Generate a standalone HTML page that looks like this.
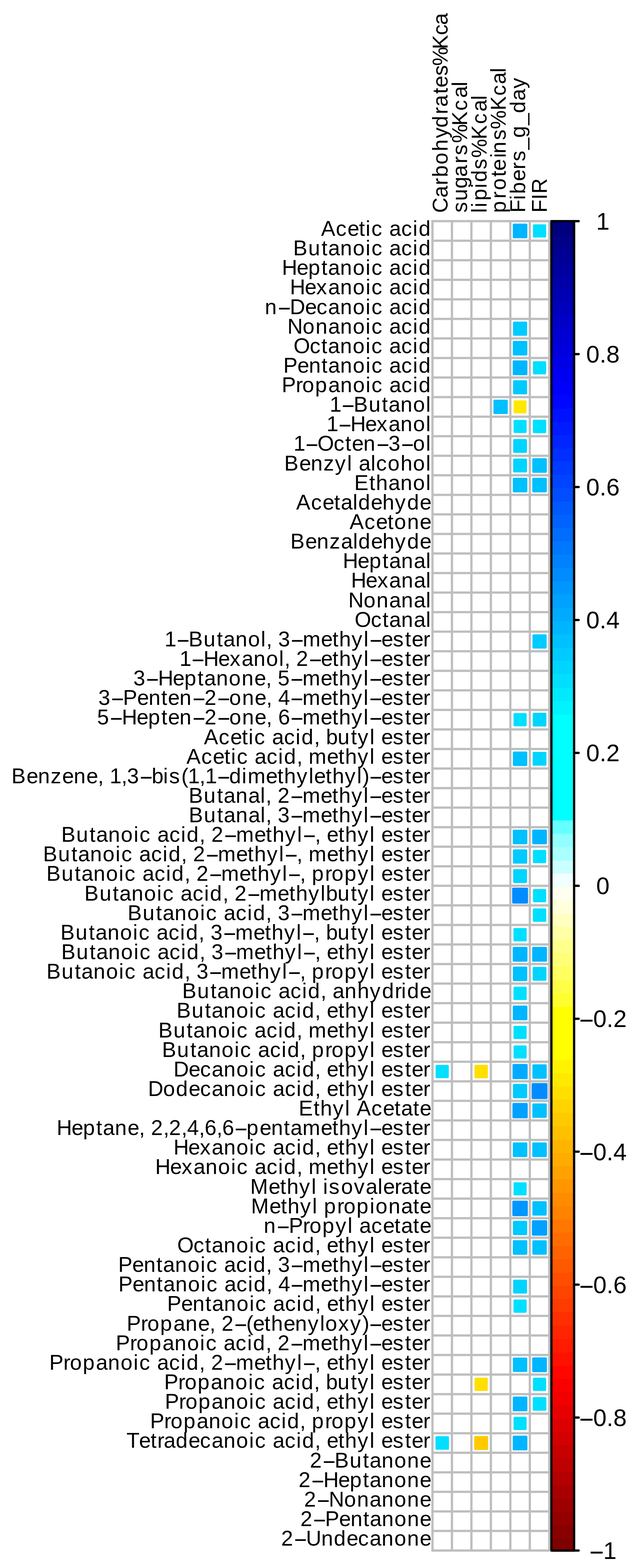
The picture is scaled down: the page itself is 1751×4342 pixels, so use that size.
<!DOCTYPE html>
<html lang="en"><head><meta charset="utf-8"><title>Correlation plot</title>
<style>html,body{margin:0;padding:0;background:#fff}body{width:1751px;height:4342px;overflow:hidden}svg{display:block}text{font-family:"Liberation Sans",Arial,Helvetica,sans-serif;fill:#000;font-kerning:none;font-variant-ligatures:none}.r{font-size:59px}.k{font-size:66.67px}</style></head><body>
<svg width="1751" height="4342" viewBox="0 0 1751 4342">
<rect width="1751" height="4342" fill="#fff"/>
<g stroke-width="6.25" stroke-linejoin="round">
<rect x="1423.81" y="622.28" width="34.24" height="34.37" fill="#00B5FF" stroke="#00B5FF"/>
<rect x="1479.71" y="624.25" width="30.32" height="30.43" fill="#00DFFF" stroke="#00DFFF"/>
<rect x="1424.52" y="893.68" width="32.81" height="32.93" fill="#00CAFF" stroke="#00CAFF"/>
<rect x="1423.87" y="947.16" width="34.11" height="34.24" fill="#00C0FF" stroke="#00C0FF"/>
<rect x="1423.62" y="1001.04" width="34.62" height="34.75" fill="#00B5FF" stroke="#00B5FF"/>
<rect x="1479.76" y="1003.25" width="30.23" height="30.33" fill="#00DFFF" stroke="#00DFFF"/>
<rect x="1424.64" y="1056.19" width="32.59" height="32.71" fill="#00CAFF" stroke="#00CAFF"/>
<rect x="1370.26" y="1109.89" width="33.47" height="33.59" fill="#00C0FF" stroke="#00C0FF"/>
<rect x="1426.16" y="1111.86" width="29.54" height="29.65" fill="#FFE900" stroke="#FFE900"/>
<rect x="1425.96" y="1165.8" width="29.94" height="30.04" fill="#00DFFF" stroke="#00DFFF"/>
<rect x="1479.47" y="1165.36" width="30.8" height="30.91" fill="#00DFFF" stroke="#00DFFF"/>
<rect x="1425" y="1218.96" width="31.87" height="31.98" fill="#00D4FF" stroke="#00D4FF"/>
<rect x="1424.86" y="1272.96" width="32.14" height="32.25" fill="#00D4FF" stroke="#00D4FF"/>
<rect x="1477.81" y="1271.97" width="34.11" height="34.24" fill="#00C0FF" stroke="#00C0FF"/>
<rect x="1423.87" y="1326.1" width="34.11" height="34.24" fill="#00C0FF" stroke="#00C0FF"/>
<rect x="1477.81" y="1326.1" width="34.11" height="34.24" fill="#00C0FF" stroke="#00C0FF"/>
<rect x="1478.35" y="1759.73" width="33.03" height="33.15" fill="#00CAFF" stroke="#00CAFF"/>
<rect x="1425.77" y="1977.63" width="30.32" height="30.43" fill="#00DFFF" stroke="#00DFFF"/>
<rect x="1479.05" y="1976.97" width="31.64" height="31.75" fill="#00D4FF" stroke="#00D4FF"/>
<rect x="1424.09" y="2084.21" width="33.69" height="33.81" fill="#00C0FF" stroke="#00C0FF"/>
<rect x="1478.91" y="2085.1" width="31.91" height="32.03" fill="#00D4FF" stroke="#00D4FF"/>
<rect x="1423.87" y="2300.53" width="34.11" height="34.24" fill="#00C0FF" stroke="#00C0FF"/>
<rect x="1477.6" y="2300.32" width="34.54" height="34.66" fill="#00B5FF" stroke="#00B5FF"/>
<rect x="1424.3" y="2355.1" width="33.25" height="33.37" fill="#00CAFF" stroke="#00CAFF"/>
<rect x="1479.71" y="2356.57" width="30.32" height="30.43" fill="#00DFFF" stroke="#00DFFF"/>
<rect x="1424.86" y="2409.8" width="32.14" height="32.25" fill="#00D4FF" stroke="#00D4FF"/>
<rect x="1422.05" y="2461.11" width="37.76" height="37.89" fill="#008CFF" stroke="#008CFF"/>
<rect x="1479.71" y="2464.84" width="30.32" height="30.43" fill="#00DFFF" stroke="#00DFFF"/>
<rect x="1479.47" y="2518.74" width="30.8" height="30.91" fill="#00DFFF" stroke="#00DFFF"/>
<rect x="1425.67" y="2573.02" width="30.51" height="30.62" fill="#00DFFF" stroke="#00DFFF"/>
<rect x="1423.56" y="2625.03" width="34.75" height="34.87" fill="#00B5FF" stroke="#00B5FF"/>
<rect x="1477.5" y="2625.03" width="34.75" height="34.87" fill="#00B5FF" stroke="#00B5FF"/>
<rect x="1424.09" y="2679.69" width="33.69" height="33.81" fill="#00C0FF" stroke="#00C0FF"/>
<rect x="1478.91" y="2680.58" width="31.91" height="32.03" fill="#00D4FF" stroke="#00D4FF"/>
<rect x="1425.67" y="2735.42" width="30.51" height="30.62" fill="#00DFFF" stroke="#00DFFF"/>
<rect x="1423.77" y="2787.64" width="34.33" height="34.45" fill="#00B5FF" stroke="#00B5FF"/>
<rect x="1425.77" y="2843.79" width="30.32" height="30.43" fill="#00DFFF" stroke="#00DFFF"/>
<rect x="1425.91" y="2898.07" width="30.03" height="30.14" fill="#00DFFF" stroke="#00DFFF"/>
<rect x="1210.03" y="2952.08" width="30.27" height="30.38" fill="#00DFFF" stroke="#00DFFF"/>
<rect x="1317.56" y="2951.72" width="30.99" height="31.1" fill="#FFDF00" stroke="#FFDF00"/>
<rect x="1423.04" y="2949.32" width="35.78" height="35.91" fill="#00ABFF" stroke="#00ABFF"/>
<rect x="1478.14" y="2950.48" width="33.47" height="33.59" fill="#00C0FF" stroke="#00C0FF"/>
<rect x="1424.3" y="3004.72" width="33.25" height="33.37" fill="#00CAFF" stroke="#00CAFF"/>
<rect x="1475.99" y="3002.46" width="37.76" height="37.89" fill="#008CFF" stroke="#008CFF"/>
<rect x="1422.84" y="3057.39" width="36.18" height="36.31" fill="#00A1FF" stroke="#00A1FF"/>
<rect x="1478.03" y="3058.64" width="33.69" height="33.81" fill="#00C0FF" stroke="#00C0FF"/>
<rect x="1423.87" y="3166.69" width="34.11" height="34.24" fill="#00C0FF" stroke="#00C0FF"/>
<rect x="1477.81" y="3166.69" width="34.11" height="34.24" fill="#00C0FF" stroke="#00C0FF"/>
<rect x="1425.91" y="3277.01" width="30.03" height="30.14" fill="#00DFFF" stroke="#00DFFF"/>
<rect x="1422.54" y="3327.76" width="36.78" height="36.92" fill="#0096FF" stroke="#0096FF"/>
<rect x="1478.14" y="3329.42" width="33.47" height="33.59" fill="#00C0FF" stroke="#00C0FF"/>
<rect x="1424.3" y="3383.67" width="33.25" height="33.37" fill="#00CAFF" stroke="#00CAFF"/>
<rect x="1476.78" y="3382.2" width="36.18" height="36.31" fill="#00A1FF" stroke="#00A1FF"/>
<rect x="1423.98" y="3437.48" width="33.9" height="34.02" fill="#00C0FF" stroke="#00C0FF"/>
<rect x="1478.03" y="3437.58" width="33.69" height="33.81" fill="#00C0FF" stroke="#00C0FF"/>
<rect x="1424.86" y="3546.63" width="32.14" height="32.25" fill="#00D4FF" stroke="#00D4FF"/>
<rect x="1425.77" y="3601.68" width="30.32" height="30.43" fill="#00DFFF" stroke="#00DFFF"/>
<rect x="1424.09" y="3762.39" width="33.69" height="33.81" fill="#00C0FF" stroke="#00C0FF"/>
<rect x="1477.6" y="3761.97" width="34.54" height="34.66" fill="#00B5FF" stroke="#00B5FF"/>
<rect x="1317.79" y="3818.12" width="30.51" height="30.62" fill="#FFDF00" stroke="#FFDF00"/>
<rect x="1479.71" y="3818.22" width="30.32" height="30.43" fill="#00DFFF" stroke="#00DFFF"/>
<rect x="1423.77" y="3870.34" width="34.33" height="34.45" fill="#00B5FF" stroke="#00B5FF"/>
<rect x="1479.14" y="3871.78" width="31.45" height="31.57" fill="#00DFFF" stroke="#00DFFF"/>
<rect x="1425.79" y="3926.51" width="30.27" height="30.38" fill="#00DFFF" stroke="#00DFFF"/>
<rect x="1209.61" y="3980.22" width="31.13" height="31.24" fill="#00DFFF" stroke="#00DFFF"/>
<rect x="1316.87" y="3979.6" width="32.36" height="32.48" fill="#FFCA00" stroke="#FFCA00"/>
<rect x="1423.7" y="3978.55" width="34.45" height="34.58" fill="#00B5FF" stroke="#00B5FF"/>
</g>
<path d="M1198.2 612.4V4293.58M1252.14 612.4V4293.58M1306.08 612.4V4293.58M1360.02 612.4V4293.58M1413.96 612.4V4293.58M1467.9 612.4V4293.58M1521.84 612.4V4293.58M1198.2 612.4H1521.84M1198.2 666.53H1521.84M1198.2 720.67H1521.84M1198.2 774.8H1521.84M1198.2 828.94H1521.84M1198.2 883.08H1521.84M1198.2 937.21H1521.84M1198.2 991.35H1521.84M1198.2 1045.48H1521.84M1198.2 1099.62H1521.84M1198.2 1153.75H1521.84M1198.2 1207.88H1521.84M1198.2 1262.02H1521.84M1198.2 1316.15H1521.84M1198.2 1370.29H1521.84M1198.2 1424.42H1521.84M1198.2 1478.56H1521.84M1198.2 1532.69H1521.84M1198.2 1586.83H1521.84M1198.2 1640.97H1521.84M1198.2 1695.1H1521.84M1198.2 1749.24H1521.84M1198.2 1803.37H1521.84M1198.2 1857.51H1521.84M1198.2 1911.64H1521.84M1198.2 1965.78H1521.84M1198.2 2019.91H1521.84M1198.2 2074.05H1521.84M1198.2 2128.18H1521.84M1198.2 2182.32H1521.84M1198.2 2236.45H1521.84M1198.2 2290.59H1521.84M1198.2 2344.72H1521.84M1198.2 2398.86H1521.84M1198.2 2452.99H1521.84M1198.2 2507.12H1521.84M1198.2 2561.26H1521.84M1198.2 2615.39H1521.84M1198.2 2669.53H1521.84M1198.2 2723.66H1521.84M1198.2 2777.8H1521.84M1198.2 2831.93H1521.84M1198.2 2886.07H1521.84M1198.2 2940.2H1521.84M1198.2 2994.34H1521.84M1198.2 3048.47H1521.84M1198.2 3102.61H1521.84M1198.2 3156.74H1521.84M1198.2 3210.88H1521.84M1198.2 3265.01H1521.84M1198.2 3319.15H1521.84M1198.2 3373.28H1521.84M1198.2 3427.42H1521.84M1198.2 3481.55H1521.84M1198.2 3535.69H1521.84M1198.2 3589.82H1521.84M1198.2 3643.96H1521.84M1198.2 3698.09H1521.84M1198.2 3752.23H1521.84M1198.2 3806.36H1521.84M1198.2 3860.5H1521.84M1198.2 3914.63H1521.84M1198.2 3968.77H1521.84M1198.2 4022.9H1521.84M1198.2 4077.04H1521.84M1198.2 4131.18H1521.84M1198.2 4185.31H1521.84M1198.2 4239.44H1521.84M1198.2 4293.58H1521.84" fill="none" stroke="#BEBEBE" stroke-width="6.25" stroke-linecap="square"/>
<g shape-rendering="crispEdges">
<rect x="1527.7" y="4259.47" width="62.9" height="37.41" fill="#7F0000"/>
<rect x="1527.7" y="4222.66" width="62.9" height="37.41" fill="#890000"/>
<rect x="1527.7" y="4185.84" width="62.9" height="37.41" fill="#940000"/>
<rect x="1527.7" y="4149.03" width="62.9" height="37.41" fill="#9E0000"/>
<rect x="1527.7" y="4112.22" width="62.9" height="37.41" fill="#A80000"/>
<rect x="1527.7" y="4075.41" width="62.9" height="37.41" fill="#B30000"/>
<rect x="1527.7" y="4038.6" width="62.9" height="37.41" fill="#BD0000"/>
<rect x="1527.7" y="4001.79" width="62.9" height="37.41" fill="#C70000"/>
<rect x="1527.7" y="3964.97" width="62.9" height="37.41" fill="#D20000"/>
<rect x="1527.7" y="3928.16" width="62.9" height="37.41" fill="#DC0000"/>
<rect x="1527.7" y="3891.35" width="62.9" height="37.41" fill="#E60000"/>
<rect x="1527.7" y="3854.54" width="62.9" height="37.41" fill="#F10000"/>
<rect x="1527.7" y="3817.73" width="62.9" height="37.41" fill="#FB0000"/>
<rect x="1527.7" y="3780.91" width="62.9" height="37.41" fill="#FF0600"/>
<rect x="1527.7" y="3744.1" width="62.9" height="37.41" fill="#FF1100"/>
<rect x="1527.7" y="3707.29" width="62.9" height="37.41" fill="#FF1B00"/>
<rect x="1527.7" y="3670.48" width="62.9" height="37.41" fill="#FF2500"/>
<rect x="1527.7" y="3633.67" width="62.9" height="37.41" fill="#FF2F00"/>
<rect x="1527.7" y="3596.86" width="62.9" height="37.41" fill="#FF3A00"/>
<rect x="1527.7" y="3560.04" width="62.9" height="37.41" fill="#FF4400"/>
<rect x="1527.7" y="3523.23" width="62.9" height="37.41" fill="#FF4E00"/>
<rect x="1527.7" y="3486.42" width="62.9" height="37.41" fill="#FF5900"/>
<rect x="1527.7" y="3449.61" width="62.9" height="37.41" fill="#FF6300"/>
<rect x="1527.7" y="3412.8" width="62.9" height="37.41" fill="#FF6D00"/>
<rect x="1527.7" y="3375.99" width="62.9" height="37.41" fill="#FF7700"/>
<rect x="1527.7" y="3339.17" width="62.9" height="37.41" fill="#FF8200"/>
<rect x="1527.7" y="3302.36" width="62.9" height="37.41" fill="#FF8C00"/>
<rect x="1527.7" y="3265.55" width="62.9" height="37.41" fill="#FF9600"/>
<rect x="1527.7" y="3228.74" width="62.9" height="37.41" fill="#FFA100"/>
<rect x="1527.7" y="3191.93" width="62.9" height="37.41" fill="#FFAB00"/>
<rect x="1527.7" y="3155.11" width="62.9" height="37.41" fill="#FFB500"/>
<rect x="1527.7" y="3118.3" width="62.9" height="37.41" fill="#FFC000"/>
<rect x="1527.7" y="3081.49" width="62.9" height="37.41" fill="#FFCA00"/>
<rect x="1527.7" y="3044.68" width="62.9" height="37.41" fill="#FFD400"/>
<rect x="1527.7" y="3007.87" width="62.9" height="37.41" fill="#FFDF00"/>
<rect x="1527.7" y="2971.06" width="62.9" height="37.41" fill="#FFE900"/>
<rect x="1527.7" y="2934.24" width="62.9" height="37.41" fill="#FFF300"/>
<rect x="1527.7" y="2897.43" width="62.9" height="37.41" fill="#FFFF00"/>
<rect x="1527.7" y="2860.62" width="62.9" height="37.41" fill="#FFFF00"/>
<rect x="1527.7" y="2823.81" width="62.9" height="37.41" fill="#FFFF00"/>
<rect x="1527.7" y="2787" width="62.9" height="37.41" fill="#FFFF00"/>
<rect x="1527.7" y="2750.18" width="62.9" height="37.41" fill="#FFFF30"/>
<rect x="1527.7" y="2713.37" width="62.9" height="37.41" fill="#FFFF48"/>
<rect x="1527.7" y="2676.56" width="62.9" height="37.41" fill="#FFFF60"/>
<rect x="1527.7" y="2639.75" width="62.9" height="37.41" fill="#FFFF78"/>
<rect x="1527.7" y="2602.94" width="62.9" height="37.41" fill="#FFFF8C"/>
<rect x="1527.7" y="2566.13" width="62.9" height="37.41" fill="#FFFFA5"/>
<rect x="1527.7" y="2529.31" width="62.9" height="37.41" fill="#FFFFC0"/>
<rect x="1527.7" y="2492.5" width="62.9" height="37.41" fill="#FFFFDC"/>
<rect x="1527.7" y="2455.69" width="62.9" height="37.41" fill="#FFFFF0"/>
<rect x="1527.7" y="2418.88" width="62.9" height="37.41" fill="#F2FFFF"/>
<rect x="1527.7" y="2382.07" width="62.9" height="37.41" fill="#CCFFFF"/>
<rect x="1527.7" y="2345.25" width="62.9" height="37.41" fill="#AAFFFF"/>
<rect x="1527.7" y="2308.44" width="62.9" height="37.41" fill="#91FFFF"/>
<rect x="1527.7" y="2271.63" width="62.9" height="37.41" fill="#66FFFF"/>
<rect x="1527.7" y="2234.82" width="62.9" height="37.41" fill="#00FFFF"/>
<rect x="1527.7" y="2198.01" width="62.9" height="37.41" fill="#00FFFF"/>
<rect x="1527.7" y="2161.2" width="62.9" height="37.41" fill="#00FFFF"/>
<rect x="1527.7" y="2124.38" width="62.9" height="37.41" fill="#00FFFF"/>
<rect x="1527.7" y="2087.57" width="62.9" height="37.41" fill="#00FFFF"/>
<rect x="1527.7" y="2050.76" width="62.9" height="37.41" fill="#00FFFF"/>
<rect x="1527.7" y="2013.95" width="62.9" height="37.41" fill="#00FFFF"/>
<rect x="1527.7" y="1977.14" width="62.9" height="37.41" fill="#00FFFF"/>
<rect x="1527.7" y="1940.32" width="62.9" height="37.41" fill="#00F3FF"/>
<rect x="1527.7" y="1903.51" width="62.9" height="37.41" fill="#00E9FF"/>
<rect x="1527.7" y="1866.7" width="62.9" height="37.41" fill="#00DFFF"/>
<rect x="1527.7" y="1829.89" width="62.9" height="37.41" fill="#00D4FF"/>
<rect x="1527.7" y="1793.08" width="62.9" height="37.41" fill="#00CAFF"/>
<rect x="1527.7" y="1756.27" width="62.9" height="37.41" fill="#00C0FF"/>
<rect x="1527.7" y="1719.45" width="62.9" height="37.41" fill="#00B5FF"/>
<rect x="1527.7" y="1682.64" width="62.9" height="37.41" fill="#00ABFF"/>
<rect x="1527.7" y="1645.83" width="62.9" height="37.41" fill="#00A1FF"/>
<rect x="1527.7" y="1609.02" width="62.9" height="37.41" fill="#0096FF"/>
<rect x="1527.7" y="1572.21" width="62.9" height="37.41" fill="#008CFF"/>
<rect x="1527.7" y="1535.4" width="62.9" height="37.41" fill="#0082FF"/>
<rect x="1527.7" y="1498.58" width="62.9" height="37.41" fill="#0077FF"/>
<rect x="1527.7" y="1461.77" width="62.9" height="37.41" fill="#006DFF"/>
<rect x="1527.7" y="1424.96" width="62.9" height="37.41" fill="#0063FF"/>
<rect x="1527.7" y="1388.15" width="62.9" height="37.41" fill="#0059FF"/>
<rect x="1527.7" y="1351.34" width="62.9" height="37.41" fill="#004EFF"/>
<rect x="1527.7" y="1314.52" width="62.9" height="37.41" fill="#0044FF"/>
<rect x="1527.7" y="1277.71" width="62.9" height="37.41" fill="#003AFF"/>
<rect x="1527.7" y="1240.9" width="62.9" height="37.41" fill="#002FFF"/>
<rect x="1527.7" y="1204.09" width="62.9" height="37.41" fill="#0025FF"/>
<rect x="1527.7" y="1167.28" width="62.9" height="37.41" fill="#001BFF"/>
<rect x="1527.7" y="1130.47" width="62.9" height="37.41" fill="#0011FF"/>
<rect x="1527.7" y="1093.65" width="62.9" height="37.41" fill="#0006FF"/>
<rect x="1527.7" y="1056.84" width="62.9" height="37.41" fill="#0000FB"/>
<rect x="1527.7" y="1020.03" width="62.9" height="37.41" fill="#0000F1"/>
<rect x="1527.7" y="983.22" width="62.9" height="37.41" fill="#0000E6"/>
<rect x="1527.7" y="946.41" width="62.9" height="37.41" fill="#0000DC"/>
<rect x="1527.7" y="909.59" width="62.9" height="37.41" fill="#0000D2"/>
<rect x="1527.7" y="872.78" width="62.9" height="37.41" fill="#0000C7"/>
<rect x="1527.7" y="835.97" width="62.9" height="37.41" fill="#0000BD"/>
<rect x="1527.7" y="799.16" width="62.9" height="37.41" fill="#0000B3"/>
<rect x="1527.7" y="762.35" width="62.9" height="37.41" fill="#0000A8"/>
<rect x="1527.7" y="725.54" width="62.9" height="37.41" fill="#00009E"/>
<rect x="1527.7" y="688.72" width="62.9" height="37.41" fill="#000094"/>
<rect x="1527.7" y="651.91" width="62.9" height="37.41" fill="#000089"/>
<rect x="1527.7" y="615.1" width="62.9" height="37.41" fill="#00007F"/>
</g>
<rect x="1527.7" y="612.4" width="62.9" height="3681.18" fill="none" stroke="#000" stroke-width="6.25" stroke-linejoin="round"/>
<path d="M1590.6 612.4H1603.2M1590.6 980.52H1603.2M1590.6 1348.64H1603.2M1590.6 1716.75H1603.2M1590.6 2084.87H1603.2M1590.6 2452.99H1603.2M1590.6 2821.11H1603.2M1590.6 3189.23H1603.2M1590.6 3557.34H1603.2M1590.6 3925.46H1603.2M1590.6 4293.58H1603.2" fill="none" stroke="#000" stroke-width="6.25" stroke-linecap="round"/>
<g class="k">
<text x="1651.86" y="635.7">1</text>
<text x="1624.06 1661.14 1679.66" y="1003.82">0.8</text>
<text x="1624.06 1661.14 1679.66" y="1371.94">0.6</text>
<text x="1624.06 1661.14 1679.66" y="1740.05">0.4</text>
<text x="1624.06 1661.14 1679.66" y="2108.17">0.2</text>
<text x="1651.86" y="2476.29">0</text>
<text x="1602.39 1643.53 1680.61 1699.13" y="2844.41"><tspan textLength="45.51" lengthAdjust="spacingAndGlyphs">-</tspan>0.2</text>
<text x="1602.39 1643.53 1680.61 1699.13" y="3212.53"><tspan textLength="45.51" lengthAdjust="spacingAndGlyphs">-</tspan>0.4</text>
<text x="1602.39 1643.53 1680.61 1699.13" y="3580.64"><tspan textLength="45.51" lengthAdjust="spacingAndGlyphs">-</tspan>0.6</text>
<text x="1602.39 1643.53 1680.61 1699.13" y="3948.76"><tspan textLength="45.51" lengthAdjust="spacingAndGlyphs">-</tspan>0.8</text>
<text x="1630.19 1671.33" y="4316.88"><tspan textLength="45.51" lengthAdjust="spacingAndGlyphs">-</tspan>1</text>
</g>
<g class="r">
<text y="653" x="889.4 930.57 962.64 994.49 1012.99 1029.11 1061.19 1078.5 1111.79 1143.87 1159.99">Acetic acid</text>
<text y="707.13" x="812.19 853.94 890.63 909.13 942.4 977.45 1013.05 1029.17 1061.23 1078.54 1111.81 1143.87 1159.99">Butanoic acid</text>
<text y="761.27" x="781.05 822.25 854.09 890.59 909.09 942.37 977.43 1013.04 1029.15 1061.22 1078.53 1111.81 1143.87 1159.99">Heptanoic acid</text>
<text y="815.4" x="803.35 844.52 876.33 909.29 942.54 977.57 1013.15 1029.26 1061.3 1078.59 1111.84 1143.88 1159.99">Hexanoic acid</text>
<text y="869.54 869.54 869.54 869.54 869.54 869.54 869.54 869.54 869.54 869.54 869.54 869.54 869.54 869.54 869.54" x="733.75 767.8 803.12 845.23 877.06 909.12 942.39 977.45 1013.05 1029.17 1061.23 1078.54 1111.81 1143.87 1159.99">n<tspan textLength="40.28" lengthAdjust="spacingAndGlyphs">-</tspan>Decanoic acid</text>
<text y="923.67" x="796.27 838.58 874.17 909.21 942.47 977.51 1013.11 1029.22 1061.27 1078.57 1111.83 1143.88 1159.99">Nonanoic acid</text>
<text y="977.81" x="813.2 858.25 890.35 908.86 942.17 977.26 1012.9 1029.03 1061.13 1078.45 1111.76 1143.86 1159.99">Octanoic acid</text>
<text y="1031.94" x="784.99 824.02 855.83 890.85 909.33 942.58 977.6 1013.18 1029.28 1061.31 1078.61 1111.85 1143.89 1159.99">Pentanoic acid</text>
<text y="1086.08" x="780.43 819.44 837.51 873.05 909.5 942.73 977.73 1013.28 1029.37 1061.38 1078.66 1111.88 1143.9 1159.99">Propanoic acid</text>
<text y="1140.21 1140.21 1140.21 1140.21 1140.21 1140.21 1140.21 1140.21 1140.21" x="913.61 944.63 979.82 1021.41 1057.97 1076.4 1109.55 1144.47 1179.94">1<tspan textLength="40.28" lengthAdjust="spacingAndGlyphs">-</tspan>Butanol</text>
<text y="1194.35 1194.35 1194.35 1194.35 1194.35 1194.35 1194.35 1194.35 1194.35" x="904.73 935.73 970.9 1011.92 1043.61 1076.45 1109.58 1144.49 1179.94">1<tspan textLength="40.28" lengthAdjust="spacingAndGlyphs">-</tspan>Hexanol</text>
<text y="1248.49 1248.49 1248.49 1248.49 1248.49 1248.49 1248.49 1248.49 1248.49 1248.49 1248.49 1248.49" x="813.2 844.31 879.6 924.56 956.59 975.07 1006.87 1040.9 1076.18 1109.09 1144.37 1179.94">1<tspan textLength="40.28" lengthAdjust="spacingAndGlyphs">-</tspan>Octen<tspan textLength="40.28" lengthAdjust="spacingAndGlyphs">-</tspan>3<tspan textLength="40.28" lengthAdjust="spacingAndGlyphs">-</tspan>ol</text>
<text y="1302.62" x="787.48 829.2 861.01 896.05 928.03 961.77 976.66 993.96 1027.21 1042.1 1074.14 1109.72 1144.36 1179.94">Benzyl alcohol</text>
<text y="1356.76" x="981.45 1022.92 1041.41 1076.05 1109.31 1144.35 1179.94">Ethanol</text>
<text y="1410.89" x="820.59 861.77 893.86 925.72 944.23 977.53 992.44 1027.61 1059.47 1094.15 1127.94 1163.11">Acetaldehyde</text>
<text y="1465.03" x="968.44 1009.68 1041.82 1073.74 1092.28 1127.97 1163.11">Acetone</text>
<text y="1519.16" x="804.38 846.06 877.84 912.83 944.78 977.99 992.86 1027.95 1059.73 1094.32 1128.03 1163.11">Benzaldehyde</text>
<text y="1573.3" x="949.83 991.11 1023.01 1059.59 1078.13 1111.47 1146.6 1179.94">Heptanal</text>
<text y="1627.43" x="972.38 1013.57 1045.39 1078.37 1111.63 1146.67 1179.94">Hexanal</text>
<text y="1681.57" x="965.05 1007.44 1043.09 1078.19 1111.51 1146.62 1179.94">Nonanal</text>
<text y="1735.7" x="982.48 1027.55 1059.66 1078.19 1111.51 1146.62 1179.94">Octanal</text>
<text y="1789.84 1789.84 1789.84 1789.84 1789.84 1789.84 1789.84 1789.84 1789.84 1789.84 1789.84 1789.84 1789.84 1789.84 1789.84 1789.84 1789.84 1789.84 1789.84 1789.84 1789.84 1789.84 1789.84 1789.84 1789.84" x="456.1 487.17 522.4 564.05 600.66 619.11 652.3 687.27 722.8 737.66 753.38 770.64 803.5 838.74 889.18 920.94 939.39 973.96 1007.65 1021.51 1056.74 1088.5 1122.32 1140.77 1172.53">1<tspan textLength="40.28" lengthAdjust="spacingAndGlyphs">-</tspan>Butanol, 3<tspan textLength="40.28" lengthAdjust="spacingAndGlyphs">-</tspan>methyl<tspan textLength="40.28" lengthAdjust="spacingAndGlyphs">-</tspan>ester</text>
<text y="1843.97 1843.97 1843.97 1843.97 1843.97 1843.97 1843.97 1843.97 1843.97 1843.97 1843.97 1843.97 1843.97 1843.97 1843.97 1843.97 1843.97 1843.97 1843.97 1843.97 1843.97 1843.97 1843.97 1843.97" x="497.41 528.46 563.68 604.77 636.51 669.4 702.58 737.54 773.05 787.9 803.61 820.87 854.07 889.29 921.04 939.48 974.04 1007.71 1021.57 1056.79 1088.53 1122.34 1140.79 1172.53">1<tspan textLength="40.28" lengthAdjust="spacingAndGlyphs">-</tspan>Hexanol, 2<tspan textLength="40.28" lengthAdjust="spacingAndGlyphs">-</tspan>ethyl<tspan textLength="40.28" lengthAdjust="spacingAndGlyphs">-</tspan>ester</text>
<text y="1898.11 1898.11 1898.11 1898.11 1898.11 1898.11 1898.11 1898.11 1898.11 1898.11 1898.11 1898.11 1898.11 1898.11 1898.11 1898.11 1898.11 1898.11 1898.11 1898.11 1898.11 1898.11 1898.11 1898.11 1898.11 1898.11 1898.11" x="369.39 402.34 437.65 478.85 510.68 547.19 565.69 598.96 634.01 669.62 704.67 736.51 752.26 769.57 802.63 837.94 888.5 920.34 938.83 973.49 1007.25 1021.15 1056.46 1088.3 1122.2 1140.7 1172.53">3<tspan textLength="40.28" lengthAdjust="spacingAndGlyphs">-</tspan>Heptanone, 5<tspan textLength="40.28" lengthAdjust="spacingAndGlyphs">-</tspan>methyl<tspan textLength="40.28" lengthAdjust="spacingAndGlyphs">-</tspan>ester</text>
<text y="1952.24 1952.24 1952.24 1952.24 1952.24 1952.24 1952.24 1952.24 1952.24 1952.24 1952.24 1952.24 1952.24 1952.24 1952.24 1952.24 1952.24 1952.24 1952.24 1952.24 1952.24 1952.24 1952.24 1952.24 1952.24 1952.24 1952.24 1952.24 1952.24 1952.24" x="272.55 305.5 340.82 379.89 411.73 446.79 465.29 497.13 531.19 566.51 599.8 635.12 670.73 705.79 737.63 753.39 770.7 802.58 837.9 888.46 920.3 938.8 973.46 1007.23 1021.13 1056.45 1088.29 1122.19 1140.69 1172.53">3<tspan textLength="40.28" lengthAdjust="spacingAndGlyphs">-</tspan>Penten<tspan textLength="40.28" lengthAdjust="spacingAndGlyphs">-</tspan>2<tspan textLength="40.28" lengthAdjust="spacingAndGlyphs">-</tspan>one, 4<tspan textLength="40.28" lengthAdjust="spacingAndGlyphs">-</tspan>methyl<tspan textLength="40.28" lengthAdjust="spacingAndGlyphs">-</tspan>ester</text>
<text y="2006.38 2006.38 2006.38 2006.38 2006.38 2006.38 2006.38 2006.38 2006.38 2006.38 2006.38 2006.38 2006.38 2006.38 2006.38 2006.38 2006.38 2006.38 2006.38 2006.38 2006.38 2006.38 2006.38 2006.38 2006.38 2006.38 2006.38 2006.38 2006.38 2006.38" x="269.12 302.16 337.47 378.65 410.47 446.97 465.46 497.28 531.32 566.63 599.91 635.21 670.81 705.85 737.67 753.42 770.73 802.75 838.05 888.6 920.42 938.91 973.55 1007.31 1021.2 1056.5 1088.32 1122.22 1140.71 1172.53">5<tspan textLength="40.28" lengthAdjust="spacingAndGlyphs">-</tspan>Hepten<tspan textLength="40.28" lengthAdjust="spacingAndGlyphs">-</tspan>2<tspan textLength="40.28" lengthAdjust="spacingAndGlyphs">-</tspan>one, 6<tspan textLength="40.28" lengthAdjust="spacingAndGlyphs">-</tspan>methyl<tspan textLength="40.28" lengthAdjust="spacingAndGlyphs">-</tspan>ester</text>
<text y="2060.51" x="564.99 606.1 638.13 669.94 688.42 704.52 736.55 753.85 787.09 819.12 835.23 870.34 886.08 903.37 935.52 972.18 990.66 1024.39 1039.28 1056.57 1088.37 1122.25 1140.73 1172.53">Acetic acid, butyl ester</text>
<text y="2114.64" x="516.61 557.73 589.78 621.6 640.08 656.19 688.24 705.54 738.79 770.84 786.95 822.07 837.82 855.12 905.65 937.47 955.96 990.59 1024.34 1039.23 1056.53 1088.34 1122.23 1140.72 1172.53">Acetic acid, methyl ester</text>
<text y="2168.78 2168.78 2168.78 2168.78 2168.78 2168.78 2168.78 2168.78 2168.78 2168.78 2168.78 2168.78 2168.78 2168.78 2168.78 2168.78 2168.78 2168.78 2168.78 2168.78 2168.78 2168.78 2168.78 2168.78 2168.78 2168.78 2168.78 2168.78 2168.78 2168.78 2168.78 2168.78 2168.78 2168.78 2168.78 2168.78 2168.78 2168.78 2168.78 2168.78 2168.78" x="31.78 73.51 105.33 140.37 172.36 204.18 239.22 271.05 286.8 304.1 336.23 351.98 384.91 420.21 452.37 468.48 502.37 520.65 552.78 568.53 599.66 634.96 670.09 686.2 736.74 768.56 787.05 821.7 855.45 870.34 902.16 920.65 955.29 989.04 1003.93 1021.21 1056.51 1088.33 1122.22 1140.71 1172.53">Benzene, 1,3<tspan textLength="40.28" lengthAdjust="spacingAndGlyphs">-</tspan>bis(1,1<tspan textLength="40.28" lengthAdjust="spacingAndGlyphs">-</tspan>dimethylethyl)<tspan textLength="40.28" lengthAdjust="spacingAndGlyphs">-</tspan>ester</text>
<text y="2222.91 2222.91 2222.91 2222.91 2222.91 2222.91 2222.91 2222.91 2222.91 2222.91 2222.91 2222.91 2222.91 2222.91 2222.91 2222.91 2222.91 2222.91 2222.91 2222.91 2222.91 2222.91 2222.91" x="522.73 564.48 601.19 619.69 652.97 688.03 721.3 736.2 751.96 769.27 802.57 837.89 888.46 920.3 938.8 973.46 1007.23 1021.13 1056.45 1088.28 1122.19 1140.69 1172.53">Butanal, 2<tspan textLength="40.28" lengthAdjust="spacingAndGlyphs">-</tspan>methyl<tspan textLength="40.28" lengthAdjust="spacingAndGlyphs">-</tspan>ester</text>
<text y="2277.05 2277.05 2277.05 2277.05 2277.05 2277.05 2277.05 2277.05 2277.05 2277.05 2277.05 2277.05 2277.05 2277.05 2277.05 2277.05 2277.05 2277.05 2277.05 2277.05 2277.05 2277.05 2277.05" x="522.91 564.67 601.38 619.89 653.18 688.25 721.53 736.44 752.2 769.51 802.47 837.8 888.38 920.23 938.74 973.4 1007.18 1021.09 1056.41 1088.26 1122.18 1140.69 1172.53">Butanal, 3<tspan textLength="40.28" lengthAdjust="spacingAndGlyphs">-</tspan>methyl<tspan textLength="40.28" lengthAdjust="spacingAndGlyphs">-</tspan>ester</text>
<text y="2331.18 2331.18 2331.18 2331.18 2331.18 2331.18 2331.18 2331.18 2331.18 2331.18 2331.18 2331.18 2331.18 2331.18 2331.18 2331.18 2331.18 2331.18 2331.18 2331.18 2331.18 2331.18 2331.18 2331.18 2331.18 2331.18 2331.18 2331.18 2331.18 2331.18 2331.18 2331.18 2331.18 2331.18 2331.18 2331.18 2331.18" x="169.64 211.37 248.05 266.54 299.81 334.85 370.44 386.55 418.6 435.91 469.17 501.22 517.33 552.47 568.22 585.52 618.8 654.1 704.65 736.47 754.96 789.6 823.36 837.25 872.55 888.3 905.6 937.42 955.92 990.56 1024.31 1039.2 1056.5 1088.33 1122.22 1140.71 1172.53">Butanoic acid, 2<tspan textLength="40.28" lengthAdjust="spacingAndGlyphs">-</tspan>methyl<tspan textLength="40.28" lengthAdjust="spacingAndGlyphs">-</tspan>, ethyl ester</text>
<text y="2385.32 2385.32 2385.32 2385.32 2385.32 2385.32 2385.32 2385.32 2385.32 2385.32 2385.32 2385.32 2385.32 2385.32 2385.32 2385.32 2385.32 2385.32 2385.32 2385.32 2385.32 2385.32 2385.32 2385.32 2385.32 2385.32 2385.32 2385.32 2385.32 2385.32 2385.32 2385.32 2385.32 2385.32 2385.32 2385.32 2385.32 2385.32" x="119.27 160.99 197.67 216.16 249.41 284.45 320.04 336.15 368.19 385.49 418.75 450.8 466.91 502.03 517.78 535.08 568.36 603.65 654.19 686.01 704.49 739.13 772.88 786.77 822.06 837.81 855.11 905.65 937.46 955.95 990.59 1024.34 1039.22 1056.52 1088.34 1122.23 1140.71 1172.53">Butanoic acid, 2<tspan textLength="40.28" lengthAdjust="spacingAndGlyphs">-</tspan>methyl<tspan textLength="40.28" lengthAdjust="spacingAndGlyphs">-</tspan>, methyl ester</text>
<text y="2439.45 2439.45 2439.45 2439.45 2439.45 2439.45 2439.45 2439.45 2439.45 2439.45 2439.45 2439.45 2439.45 2439.45 2439.45 2439.45 2439.45 2439.45 2439.45 2439.45 2439.45 2439.45 2439.45 2439.45 2439.45 2439.45 2439.45 2439.45 2439.45 2439.45 2439.45 2439.45 2439.45 2439.45 2439.45 2439.45 2439.45 2439.45" x="128.58 170.29 206.95 225.43 258.67 293.69 329.26 345.36 377.39 394.68 427.93 459.96 476.06 511.17 526.91 544.2 577.46 612.74 663.25 695.06 713.54 748.16 781.89 795.77 831.05 846.79 864.08 900.55 918.63 954.2 990.67 1024.4 1039.29 1056.58 1088.38 1122.25 1140.73 1172.53">Butanoic acid, 2<tspan textLength="40.28" lengthAdjust="spacingAndGlyphs">-</tspan>methyl<tspan textLength="40.28" lengthAdjust="spacingAndGlyphs">-</tspan>, propyl ester</text>
<text y="2493.59 2493.59 2493.59 2493.59 2493.59 2493.59 2493.59 2493.59 2493.59 2493.59 2493.59 2493.59 2493.59 2493.59 2493.59 2493.59 2493.59 2493.59 2493.59 2493.59 2493.59 2493.59 2493.59 2493.59 2493.59 2493.59 2493.59 2493.59 2493.59 2493.59 2493.59 2493.59 2493.59 2493.59" x="233.87 275.64 312.35 330.85 364.14 399.21 434.83 450.96 483.04 500.35 533.64 565.72 581.84 617 632.77 650.08 683.39 718.72 769.3 801.15 819.66 854.33 888.11 903.01 935.2 971.91 990.41 1024.19 1039.1 1056.41 1088.26 1122.18 1140.68 1172.53">Butanoic acid, 2<tspan textLength="40.28" lengthAdjust="spacingAndGlyphs">-</tspan>methylbutyl ester</text>
<text y="2547.72 2547.72 2547.72 2547.72 2547.72 2547.72 2547.72 2547.72 2547.72 2547.72 2547.72 2547.72 2547.72 2547.72 2547.72 2547.72 2547.72 2547.72 2547.72 2547.72 2547.72 2547.72 2547.72 2547.72 2547.72 2547.72 2547.72 2547.72 2547.72" x="353.58 395.33 432.03 450.53 483.81 518.87 554.47 570.59 602.66 619.97 653.25 685.31 701.43 736.58 752.34 769.64 802.59 837.91 888.48 920.31 938.81 973.47 1007.24 1021.13 1056.45 1088.29 1122.2 1140.7 1172.53">Butanoic acid, 3<tspan textLength="40.28" lengthAdjust="spacingAndGlyphs">-</tspan>methyl<tspan textLength="40.28" lengthAdjust="spacingAndGlyphs">-</tspan>ester</text>
<text y="2601.86 2601.86 2601.86 2601.86 2601.86 2601.86 2601.86 2601.86 2601.86 2601.86 2601.86 2601.86 2601.86 2601.86 2601.86 2601.86 2601.86 2601.86 2601.86 2601.86 2601.86 2601.86 2601.86 2601.86 2601.86 2601.86 2601.86 2601.86 2601.86 2601.86 2601.86 2601.86 2601.86 2601.86 2601.86 2601.86 2601.86" x="167.47 209.21 245.9 264.39 297.66 332.71 368.3 384.42 416.47 433.78 467.04 499.1 515.21 550.35 566.1 583.41 616.35 651.65 702.2 734.03 752.52 787.17 820.93 834.82 870.13 885.88 903.19 935.35 972.04 990.53 1024.29 1039.18 1056.49 1088.31 1122.21 1140.71 1172.53">Butanoic acid, 3<tspan textLength="40.28" lengthAdjust="spacingAndGlyphs">-</tspan>methyl<tspan textLength="40.28" lengthAdjust="spacingAndGlyphs">-</tspan>, butyl ester</text>
<text y="2655.99 2655.99 2655.99 2655.99 2655.99 2655.99 2655.99 2655.99 2655.99 2655.99 2655.99 2655.99 2655.99 2655.99 2655.99 2655.99 2655.99 2655.99 2655.99 2655.99 2655.99 2655.99 2655.99 2655.99 2655.99 2655.99 2655.99 2655.99 2655.99 2655.99 2655.99 2655.99 2655.99 2655.99 2655.99 2655.99 2655.99" x="169.81 211.55 248.24 266.74 300 335.05 370.65 386.77 418.82 436.13 469.4 501.45 517.57 552.71 568.46 585.77 618.7 654.01 704.56 736.39 754.89 789.54 823.29 837.19 872.5 888.25 905.56 937.38 955.88 990.53 1024.28 1039.18 1056.48 1088.31 1122.21 1140.7 1172.53">Butanoic acid, 3<tspan textLength="40.28" lengthAdjust="spacingAndGlyphs">-</tspan>methyl<tspan textLength="40.28" lengthAdjust="spacingAndGlyphs">-</tspan>, ethyl ester</text>
<text y="2710.13 2710.13 2710.13 2710.13 2710.13 2710.13 2710.13 2710.13 2710.13 2710.13 2710.13 2710.13 2710.13 2710.13 2710.13 2710.13 2710.13 2710.13 2710.13 2710.13 2710.13 2710.13 2710.13 2710.13 2710.13 2710.13 2710.13 2710.13 2710.13 2710.13 2710.13 2710.13 2710.13 2710.13 2710.13 2710.13 2710.13 2710.13" x="128.76 170.47 207.14 225.62 258.87 293.89 329.47 345.57 377.61 394.9 428.15 460.19 476.29 511.41 527.15 544.45 577.36 612.65 663.17 694.98 713.46 748.09 781.82 795.71 830.99 846.74 864.03 900.51 918.59 954.17 990.64 1024.38 1039.26 1056.56 1088.36 1122.24 1140.72 1172.53">Butanoic acid, 3<tspan textLength="40.28" lengthAdjust="spacingAndGlyphs">-</tspan>methyl<tspan textLength="40.28" lengthAdjust="spacingAndGlyphs">-</tspan>, propyl ester</text>
<text y="2764.26" x="504.73 546.55 583.31 601.84 635.17 670.28 705.94 722.09 754.21 771.54 804.87 836.99 853.13 888.34 904.12 921.45 954.78 989.9 1024.61 1058.43 1093.63 1111.76 1127.91 1163.11">Butanoic acid, anhydride</text>
<text y="2818.4" x="489.32 531.07 567.78 586.28 619.56 654.63 690.24 706.36 738.43 755.74 789.03 821.1 837.22 872.37 888.13 905.44 937.29 955.79 990.45 1024.22 1039.12 1056.43 1088.28 1122.19 1140.69 1172.53">Butanoic acid, ethyl ester</text>
<text y="2872.53" x="438.65 480.41 517.12 535.62 568.91 603.98 639.6 655.72 687.8 705.11 738.4 770.47 786.59 821.75 837.51 854.83 905.41 937.25 955.76 990.43 1024.2 1039.11 1056.42 1088.26 1122.18 1140.69 1172.53">Butanoic acid, methyl ester</text>
<text y="2926.67" x="448.86 490.55 527.18 545.65 578.88 613.88 649.43 665.52 697.54 714.82 748.04 780.06 796.15 831.24 846.97 864.25 900.7 918.77 954.32 990.77 1024.49 1039.36 1056.64 1088.42 1122.28 1140.75 1172.53">Butanoic acid, propyl ester</text>
<text y="2980.8" x="480.64 522.73 554.55 586.61 619.87 654.92 690.51 706.62 738.67 755.98 789.24 821.29 837.41 872.54 888.29 905.59 937.42 955.91 990.55 1024.31 1039.2 1056.5 1088.32 1122.22 1140.71 1172.53">Decanoic acid, ethyl ester</text>
<text y="3034.94" x="409.88 451.97 487.57 522.7 554.53 586.58 619.85 654.89 690.49 706.6 738.66 755.96 789.22 821.28 837.39 872.53 888.28 905.58 937.41 955.9 990.54 1024.3 1039.19 1056.49 1088.32 1122.21 1140.71 1172.53">Dodecanoic acid, ethyl ester</text>
<text y="3089.07" x="827.39 868.86 887.34 921.98 955.72 970.61 987.9 1029.02 1061.07 1092.88 1111.37 1144.62 1163.11">Ethyl Acetate</text>
<text y="3143.21 3143.21 3143.21 3143.21 3143.21 3143.21 3143.21 3143.21 3143.21 3143.21 3143.21 3143.21 3143.21 3143.21 3143.21 3143.21 3143.21 3143.21 3143.21 3143.21 3143.21 3143.21 3143.21 3143.21 3143.21 3143.21 3143.21 3143.21 3143.21 3143.21 3143.21 3143.21 3143.21 3143.21 3143.21 3143.21" x="157.12 198.29 230.11 266.6 285.09 318.35 353.39 385.21 400.96 418.25 452.53 468.28 502.56 518.31 551.17 566.92 599.94 615.69 647.7 683 719.49 751.31 786.35 804.84 838.1 888.63 920.45 938.94 973.58 1007.33 1021.22 1056.52 1088.34 1122.22 1140.71 1172.53">Heptane, 2,2,4,6,6<tspan textLength="40.28" lengthAdjust="spacingAndGlyphs">-</tspan>pentamethyl<tspan textLength="40.28" lengthAdjust="spacingAndGlyphs">-</tspan>ester</text>
<text y="3197.34" x="480.63 521.82 553.64 586.61 619.88 654.92 690.51 706.62 738.68 755.98 789.24 821.3 837.41 872.54 888.29 905.59 937.42 955.91 990.55 1024.31 1039.2 1056.5 1088.32 1122.22 1140.71 1172.53">Hexanoic acid, ethyl ester</text>
<text y="3251.48" x="430.06 471.25 503.07 536.05 569.31 604.35 639.95 656.06 688.12 705.42 738.68 770.74 786.85 821.98 837.74 855.04 905.59 937.41 955.9 990.55 1024.3 1039.19 1056.5 1088.32 1122.22 1140.71 1172.53">Hexanoic acid, methyl ester</text>
<text y="3305.61" x="693.35 744.13 775.94 794.42 829.04 862.78 877.66 894.96 911.06 944.93 980.51 1013.36 1046.61 1061.49 1093.3 1111.38 1144.63 1163.11">Methyl isovalerate</text>
<text y="3359.75" x="695.51 746.4 778.27 796.79 831.48 865.29 880.2 897.53 934.08 952.2 987.85 1024.39 1040.53 1076.18 1111.27 1144.59 1163.11">Methyl propionate</text>
<text y="3413.88 3413.88 3413.88 3413.88 3413.88 3413.88 3413.88 3413.88 3413.88 3413.88 3413.88 3413.88 3413.88 3413.88 3413.88 3413.88" x="730.81 764.89 800.22 839.31 857.42 893.04 929.57 963.35 978.26 995.57 1028.87 1060.95 1092.8 1111.31 1144.6 1163.11">n<tspan textLength="40.28" lengthAdjust="spacingAndGlyphs">-</tspan>Propyl acetate</text>
<text y="3468.02" x="490.92 535.93 567.99 586.48 619.76 654.81 690.41 706.52 738.58 755.89 789.16 821.22 837.33 872.48 888.23 905.54 937.37 955.86 990.51 1024.27 1039.17 1056.47 1088.31 1122.21 1140.7 1172.53">Octanoic acid, ethyl ester</text>
<text y="3522.15 3522.15 3522.15 3522.15 3522.15 3522.15 3522.15 3522.15 3522.15 3522.15 3522.15 3522.15 3522.15 3522.15 3522.15 3522.15 3522.15 3522.15 3522.15 3522.15 3522.15 3522.15 3522.15 3522.15 3522.15 3522.15 3522.15 3522.15 3522.15 3522.15" x="327.58 366.58 398.36 433.36 451.82 485.04 520.04 555.58 571.67 603.68 620.96 654.17 686.18 702.27 737.36 753.09 770.37 803.25 838.51 888.98 920.76 939.23 973.83 1007.53 1021.4 1056.66 1088.44 1122.29 1140.75 1172.53">Pentanoic acid, 3<tspan textLength="40.28" lengthAdjust="spacingAndGlyphs">-</tspan>methyl<tspan textLength="40.28" lengthAdjust="spacingAndGlyphs">-</tspan>ester</text>
<text y="3576.29 3576.29 3576.29 3576.29 3576.29 3576.29 3576.29 3576.29 3576.29 3576.29 3576.29 3576.29 3576.29 3576.29 3576.29 3576.29 3576.29 3576.29 3576.29 3576.29 3576.29 3576.29 3576.29 3576.29 3576.29 3576.29 3576.29 3576.29 3576.29 3576.29" x="328.12 367.14 398.94 433.96 452.44 485.67 520.69 556.26 572.36 604.39 621.68 654.92 686.94 703.04 738.15 753.89 771.18 803.02 838.3 888.8 920.6 939.08 973.7 1007.43 1021.31 1056.59 1088.39 1122.25 1140.73 1172.53">Pentanoic acid, 4<tspan textLength="40.28" lengthAdjust="spacingAndGlyphs">-</tspan>methyl<tspan textLength="40.28" lengthAdjust="spacingAndGlyphs">-</tspan>ester</text>
<text y="3630.42" x="463.02 502.03 533.81 568.82 587.29 620.51 655.51 691.07 707.16 739.18 756.46 789.68 821.7 837.79 872.89 888.62 905.9 937.69 956.16 990.76 1024.48 1039.35 1056.63 1088.42 1122.27 1140.75 1172.53">Pentanoic acid, ethyl ester</text>
<text y="3684.56 3684.56 3684.56 3684.56 3684.56 3684.56 3684.56 3684.56 3684.56 3684.56 3684.56 3684.56 3684.56 3684.56 3684.56 3684.56 3684.56 3684.56 3684.56 3684.56 3684.56 3684.56 3684.56 3684.56 3684.56 3684.56 3684.56 3684.56 3684.56" x="351.04 390.13 408.24 443.87 480.4 513.7 548.77 580.63 596.39 613.71 647.03 682.37 700.67 732.52 751.03 785.71 817.56 852.64 886.43 901.33 936.96 969.96 1003.75 1021.05 1056.39 1088.24 1122.17 1140.68 1172.53">Propane, 2<tspan textLength="40.28" lengthAdjust="spacingAndGlyphs">-</tspan>(ethenyloxy)<tspan textLength="40.28" lengthAdjust="spacingAndGlyphs">-</tspan>ester</text>
<text y="3738.69 3738.69 3738.69 3738.69 3738.69 3738.69 3738.69 3738.69 3738.69 3738.69 3738.69 3738.69 3738.69 3738.69 3738.69 3738.69 3738.69 3738.69 3738.69 3738.69 3738.69 3738.69 3738.69 3738.69 3738.69 3738.69 3738.69 3738.69 3738.69 3738.69" x="320.85 359.92 378.02 413.63 450.14 483.42 518.48 554.09 570.21 602.28 619.59 652.87 684.93 701.05 736.2 751.96 769.27 802.57 837.89 888.46 920.3 938.8 973.46 1007.23 1021.13 1056.45 1088.28 1122.19 1140.69 1172.53">Propanoic acid, 2<tspan textLength="40.28" lengthAdjust="spacingAndGlyphs">-</tspan>methyl<tspan textLength="40.28" lengthAdjust="spacingAndGlyphs">-</tspan>ester</text>
<text y="3792.83 3792.83 3792.83 3792.83 3792.83 3792.83 3792.83 3792.83 3792.83 3792.83 3792.83 3792.83 3792.83 3792.83 3792.83 3792.83 3792.83 3792.83 3792.83 3792.83 3792.83 3792.83 3792.83 3792.83 3792.83 3792.83 3792.83 3792.83 3792.83 3792.83 3792.83 3792.83 3792.83 3792.83 3792.83 3792.83 3792.83 3792.83" x="136.48 175.56 193.67 229.29 265.81 299.1 334.17 369.79 385.92 417.99 435.31 468.6 500.68 516.8 551.96 567.73 585.04 618.35 653.68 704.27 736.12 754.62 789.29 823.07 836.98 872.31 888.07 905.39 937.23 955.74 990.41 1024.19 1039.09 1056.41 1088.26 1122.18 1140.68 1172.53">Propanoic acid, 2<tspan textLength="40.28" lengthAdjust="spacingAndGlyphs">-</tspan>methyl<tspan textLength="40.28" lengthAdjust="spacingAndGlyphs">-</tspan>, ethyl ester</text>
<text y="3846.96" x="454.72 493.79 511.88 547.49 584 617.28 652.33 687.94 704.06 736.13 753.43 786.71 818.78 834.89 870.04 885.8 903.11 935.28 971.98 990.48 1024.25 1039.15 1056.45 1088.29 1122.2 1140.7 1172.53">Propanoic acid, butyl ester</text>
<text y="3901.1" x="456.76 495.84 513.95 549.58 586.1 619.39 654.47 690.09 706.22 738.3 755.62 788.91 820.99 837.12 872.28 888.05 905.36 937.21 955.72 990.39 1024.18 1039.08 1056.4 1088.25 1122.17 1140.68 1172.53">Propanoic acid, ethyl ester</text>
<text y="3955.23" x="415.7 454.75 472.84 508.44 544.93 578.19 613.23 648.82 664.93 696.99 714.29 747.55 779.6 795.71 830.84 846.59 863.9 900.39 918.48 954.07 990.56 1024.31 1039.2 1056.51 1088.33 1122.22 1140.71 1172.53">Propanoic acid, propyl ester</text>
<text y="4009.37" x="350.55 385.37 417.21 435.72 453.82 487.11 522.27 554.12 586.19 619.48 654.55 690.17 706.29 738.37 755.68 788.97 821.04 837.17 872.33 888.09 905.4 937.25 955.75 990.42 1024.2 1039.1 1056.42 1088.26 1122.18 1140.69 1172.53">Tetradecanoic acid, ethyl ester</text>
<text y="4063.5 4063.5 4063.5 4063.5 4063.5 4063.5 4063.5 4063.5 4063.5 4063.5" x="858.47 891.77 927.1 968.86 1005.57 1024.07 1057.36 1092.42 1128.04 1163.11">2<tspan textLength="40.28" lengthAdjust="spacingAndGlyphs">-</tspan>Butanone</text>
<text y="4117.64 4117.64 4117.64 4117.64 4117.64 4117.64 4117.64 4117.64 4117.64 4117.64 4117.64" x="827.28 860.59 895.93 937.15 969 1005.53 1024.04 1057.33 1092.41 1128.03 1163.11">2<tspan textLength="40.28" lengthAdjust="spacingAndGlyphs">-</tspan>Heptanone</text>
<text y="4171.77 4171.77 4171.77 4171.77 4171.77 4171.77 4171.77 4171.77 4171.77 4171.77" x="842.5 875.79 911.11 953.44 989.05 1024.11 1057.38 1092.44 1128.05 1163.11">2<tspan textLength="40.28" lengthAdjust="spacingAndGlyphs">-</tspan>Nonanone</text>
<text y="4225.91 4225.91 4225.91 4225.91 4225.91 4225.91 4225.91 4225.91 4225.91 4225.91 4225.91" x="832.22 865.39 900.59 939.52 971.24 1006.17 1024.6 1057.76 1092.7 1128.18 1163.11">2<tspan textLength="40.28" lengthAdjust="spacingAndGlyphs">-</tspan>Pentanone</text>
<text y="4280.05 4280.05 4280.05 4280.05 4280.05 4280.05 4280.05 4280.05 4280.05 4280.05 4280.05 4280.05" x="779.1 812.4 847.72 889.95 925.02 960.17 992.01 1024.08 1057.37 1092.43 1128.04 1163.11">2<tspan textLength="40.28" lengthAdjust="spacingAndGlyphs">-</tspan>Undecanone</text>
</g>
<g class="r">
<text transform="translate(1240 600) rotate(-90)" y="0" x="10.6 52.79 87.38 109.5 144.52 181.21 217.26 246.42 283.68 304.29 340.31 357.89 390.16 417.7 463.86 502.79 531.09">Carbohydrates%Kca</text>
<text transform="translate(1294 600) rotate(-90)" y="0" x="11.36 43.97 77.92 110.39 147.58 170.36 203.9 251.96 293.59 328.99 360.82">sugars%Kcal</text>
<text transform="translate(1347.7 600) rotate(-90)" y="0" x="10.42 26.05 44.6 79.05 96.12 130.96 163.1 214.06 256.49 291.09 322.72">lipids%Kcal</text>
<text transform="translate(1401.3 600) rotate(-90)" y="0" x="10.6 50.38 73.52 110.51 127.39 163.05 175.08 212.06 242.2 294.16 335.09 366.99 398.92">proteins%Kcal</text>
<text transform="translate(1455.05 600) rotate(-90)" y="0" x="11.16 46.85 62.9 98.59 130.98 153.31 185.79 218.62 253.89 286.82 321.19 354.86">Fibers_g_day</text>
<text transform="translate(1515.1 600) rotate(-90)" y="0" x="11.16 46.91 63.76">FIR</text>
</g>
</svg></body></html>
